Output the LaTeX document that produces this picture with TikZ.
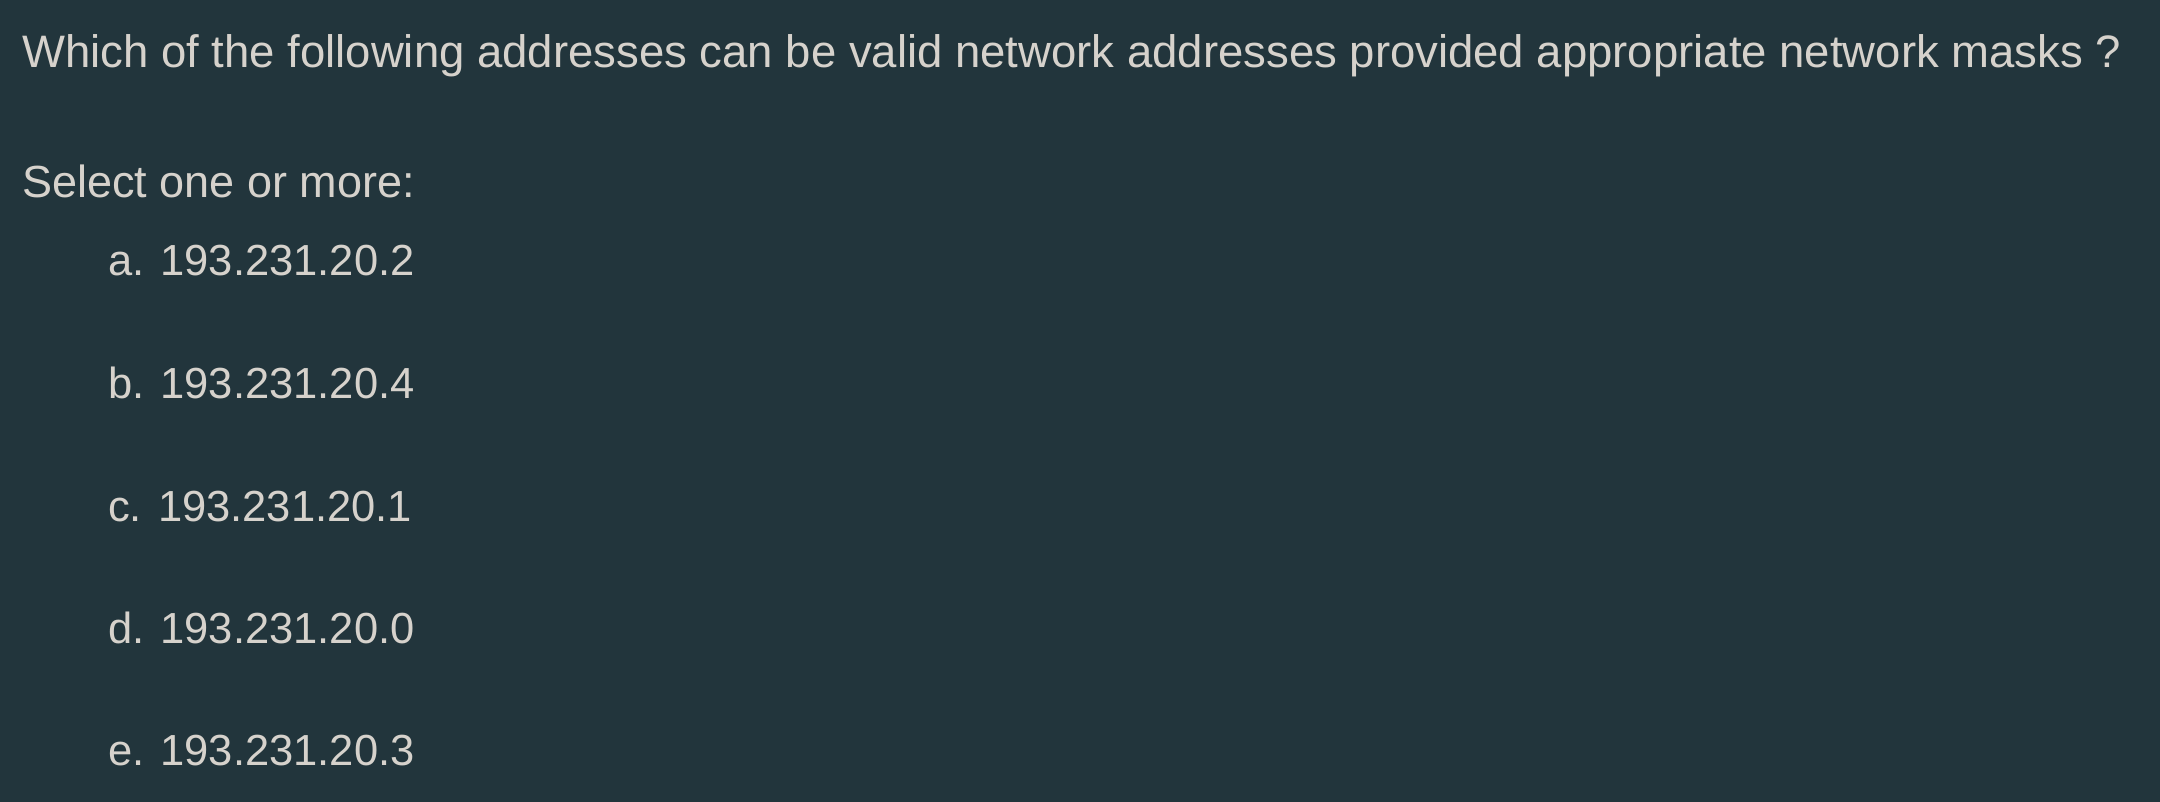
\documentclass[tikz,border=0pt]{standalone}
\usepackage{fontspec}
\setmainfont{Liberation Sans}
\definecolor{bgcol}{HTML}{22353C}
\definecolor{txtcol}{HTML}{D6D2CC}
\tikzset{
  qtext/.style={anchor=base west, inner sep=0pt, text=txtcol, font=\fontsize{45}{54}\selectfont},
  titletext/.style={qtext, font=\fontsize{45.5}{54}\selectfont},
  itemtext/.style={qtext, font=\fontsize{43.5}{54}\selectfont},
}
\begin{document}
\begin{tikzpicture}[x=1pt,y=1pt]
\fill[bgcol] (0,0) rectangle (2160,-802);
\useasboundingbox (0,0) rectangle (2160,-802);
\node[titletext] (title) at (22,-68) {Which of the following addresses can be valid network addresses provided appropriate network masks ?};
\node[qtext] (select) at (22,-198) {Select one or more:};
\node[itemtext] (a) at (108,-276) {a. 193.231.20.2};
\node[itemtext] (b) at (108,-398) {b. 193.231.20.4};
\node[itemtext] (c) at (108,-521) {c. 193.231.20.1};
\node[itemtext] (d) at (108,-643) {d. 193.231.20.0};
\node[itemtext] (e) at (108,-765) {e. 193.231.20.3};
\end{tikzpicture}
\end{document}
